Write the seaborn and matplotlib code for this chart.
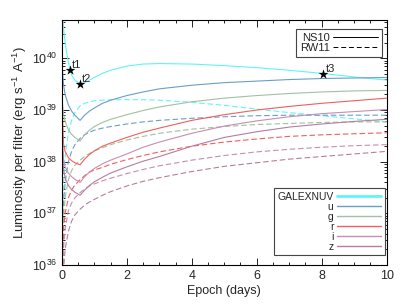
import matplotlib
matplotlib.use("Agg")
import matplotlib.pyplot as plt
from matplotlib.lines import Line2D
from matplotlib.ticker import MultipleLocator, LogLocator
import numpy as np
import pandas as pd
import seaborn as sns

EPOCH = [0.0, 0.05, 0.1, 0.2, 0.3, 0.4, 0.56, 0.7, 0.85, 1.0, 1.25, 1.5,
         2.0, 2.5, 3.0, 4.0, 5.0, 6.0, 7.0, 8.0, 9.0, 10.0]

FILTERS = ['GALEXNUV', 'u', 'g', 'r', 'i', 'z']
COLORS = ['#5ff5f5', '#6a9ec8', '#9fc29f', '#f25e5e', '#c98db0', '#b87d9e']

# log10 luminosity, NS10 model (solid)
NS10_NUV = [41.2, 40.60, 40.30, 39.92, 39.68, 39.58, 39.50, 39.53, 39.58, 39.63, 39.71,
            39.77, 39.85, 39.89, 39.90, 39.89, 39.86, 39.82, 39.77, 39.71, 39.64, 39.58]
NS10_U = [39.95, 39.50, 39.30, 39.10, 38.98, 38.90, 38.80, 38.90, 38.98, 39.04, 39.13,
          39.19, 39.28, 39.35, 39.41, 39.48, 39.53, 39.56, 39.59, 39.61, 39.62, 39.63]
NS10_G = [39.25, 38.92, 38.78, 38.62, 38.53, 38.47, 38.40, 38.52, 38.61, 38.68, 38.76,
          38.82, 38.91, 38.99, 39.06, 39.16, 39.23, 39.28, 39.32, 39.35, 39.37, 39.38]
NS10_R = [39.2, 38.35, 38.20, 38.08, 38.02, 37.98, 37.94, 38.05, 38.14, 38.21, 38.30,
          38.36, 38.47, 38.57, 38.65, 38.80, 38.91, 39.00, 39.07, 39.13, 39.18, 39.23]
NS10_I = [38.7, 38.05, 37.90, 37.78, 37.71, 37.66, 37.60, 37.71, 37.80, 37.87, 37.96,
          38.03, 38.15, 38.28, 38.38, 38.55, 38.69, 38.79, 38.87, 38.93, 38.97, 39.01]
NS10_Z = [38.5, 37.85, 37.68, 37.54, 37.46, 37.41, 37.35, 37.45, 37.54, 37.61, 37.70,
          37.78, 37.90, 38.01, 38.10, 38.30, 38.47, 38.58, 38.67, 38.73, 38.78, 38.82]

# log10 luminosity, RW11 model (dashed)
RW11_NUV = [35.5, 37.6, 38.1, 38.55, 38.80, 38.95, 39.08, 39.13, 39.16, 39.18, 39.19,
            39.20, 39.20, 39.20, 39.19, 39.15, 39.09, 39.02, 38.95, 38.89, 38.83, 38.77]
RW11_U = [35.0, 37.2, 37.6, 38.0, 38.2, 38.33, 38.45, 38.52, 38.57, 38.61, 38.65,
          38.68, 38.73, 38.77, 38.80, 38.84, 38.87, 38.89, 38.90, 38.90, 38.90, 38.90]
RW11_G = [35.0, 36.9, 37.3, 37.65, 37.83, 37.93, 38.03, 38.10, 38.16, 38.21, 38.27,
          38.33, 38.42, 38.49, 38.55, 38.63, 38.68, 38.72, 38.74, 38.76, 38.77, 38.77]
RW11_R = [35.0, 36.7, 37.0, 37.3, 37.45, 37.55, 37.65, 37.73, 37.80, 37.84, 37.89,
          37.95, 38.04, 38.12, 38.19, 38.30, 38.38, 38.44, 38.49, 38.52, 38.54, 38.56]
RW11_I = [35.0, 36.3, 36.7, 37.05, 37.2, 37.3, 37.4, 37.47, 37.53, 37.57, 37.63,
          37.68, 37.77, 37.85, 37.92, 38.03, 38.12, 38.19, 38.24, 38.28, 38.31, 38.33]
RW11_Z = [35.0, 35.9, 36.3, 36.65, 36.85, 36.97, 37.08, 37.16, 37.22, 37.27, 37.35,
          37.42, 37.53, 37.62, 37.69, 37.81, 37.91, 37.98, 38.05, 38.10, 38.15, 38.20]

# marked epochs on the NUV curve
STAR_T = [0.25, 0.56, 8.05]
STAR_LOGL = [39.77, 39.50, 39.70]
STAR_LABELS = ['t1', 't2', 't3']

models = {
    'NS10': [NS10_NUV, NS10_U, NS10_G, NS10_R, NS10_I, NS10_Z],
    'RW11': [RW11_NUV, RW11_U, RW11_G, RW11_R, RW11_I, RW11_Z],
}

rows = []
for model, curves in models.items():
    for filt, curve in zip(FILTERS, curves):
        for t, logl in zip(EPOCH, curve):
            rows.append({'Epoch': t, 'L': 10 ** logl, 'Filter': filt, 'Model': model})
df = pd.DataFrame(rows)

sns.set_style('ticks')
plt.rcParams['font.family'] = ['Liberation Sans', 'DejaVu Sans']
plt.rcParams['mathtext.fontset'] = 'custom'
plt.rcParams['mathtext.rm'] = 'Liberation Sans'
plt.rcParams['mathtext.it'] = 'Liberation Sans:italic'

fig = plt.figure(figsize=(4.07, 3.05), dpi=100)
ax = fig.add_axes([0.152, 0.131, 0.798, 0.803])

sns.lineplot(data=df, x='Epoch', y='L', hue='Filter', style='Model',
             palette=dict(zip(FILTERS, COLORS)),
             dashes={'NS10': '', 'RW11': (5, 2.5)},
             estimator=None, sort=False, legend=False, lw=0.8, ax=ax)

ax.set_yscale('log')
ax.set_xlim(0, 10)
ax.set_ylim(1e36, 10 ** 40.74)

sns.scatterplot(x=STAR_T, y=[10 ** v for v in STAR_LOGL], marker='*', color='k',
                s=55, linewidth=0, ax=ax, zorder=5)
for t, v, lab in zip(STAR_T, STAR_LOGL, STAR_LABELS):
    ax.annotate(lab, (t, 10 ** v), xytext=(1.5, 1.5), textcoords='offset points',
                fontsize=8)

ax.xaxis.set_major_locator(MultipleLocator(2))
ax.xaxis.set_minor_locator(MultipleLocator(0.5))
ax.yaxis.set_major_locator(LogLocator(base=10, numticks=10))
ax.yaxis.set_minor_locator(LogLocator(base=10, subs=np.arange(2, 10), numticks=20))
ax.tick_params(which='both', direction='in', top=True, right=True, labelsize=9,
               width=0.6, color='k')
ax.tick_params(which='major', length=5)
ax.tick_params(which='minor', length=2.5)
for s in ax.spines.values():
    s.set_linewidth(0.8)
    s.set_color('k')

ax.set_xlabel('Epoch (days)', fontsize=9, labelpad=2)
ax.set_ylabel('Luminosity per filter (erg s$^{-1}$ A$^{-1}$)', fontsize=9.5, labelpad=2)

# legend for models
model_handles = [Line2D([], [], color='k', lw=0.7),
                 Line2D([], [], color='k', lw=0.7, dashes=(5, 3))]
leg1 = ax.legend(model_handles, ['NS10', 'RW11'], loc='upper right',
                 bbox_to_anchor=(0.985, 0.963), borderaxespad=0, markerfirst=False,
                 fontsize=8, handlelength=4, handletextpad=0.3, labelspacing=0.0,
                 borderpad=0.35, fancybox=False, framealpha=1, edgecolor='#444444')
leg1.get_frame().set_linewidth(0.8)
ax.add_artist(leg1)

# legend for filters
filt_handles = [Line2D([], [], color=c, lw=2 if f == 'GALEXNUV' else 1)
                for f, c in zip(FILTERS, COLORS)]
leg2 = ax.legend(filt_handles, FILTERS, loc='lower right', bbox_to_anchor=(0.995, 0.04),
                 borderaxespad=0, markerfirst=False, fontsize=7.5, handlelength=4.3,
                 handletextpad=0.3, labelspacing=0.0, borderpad=0.35, fancybox=False,
                 framealpha=1, edgecolor='#444444')
leg2.get_frame().set_linewidth(0.8)

fig.savefig('out.png', dpi=100)
